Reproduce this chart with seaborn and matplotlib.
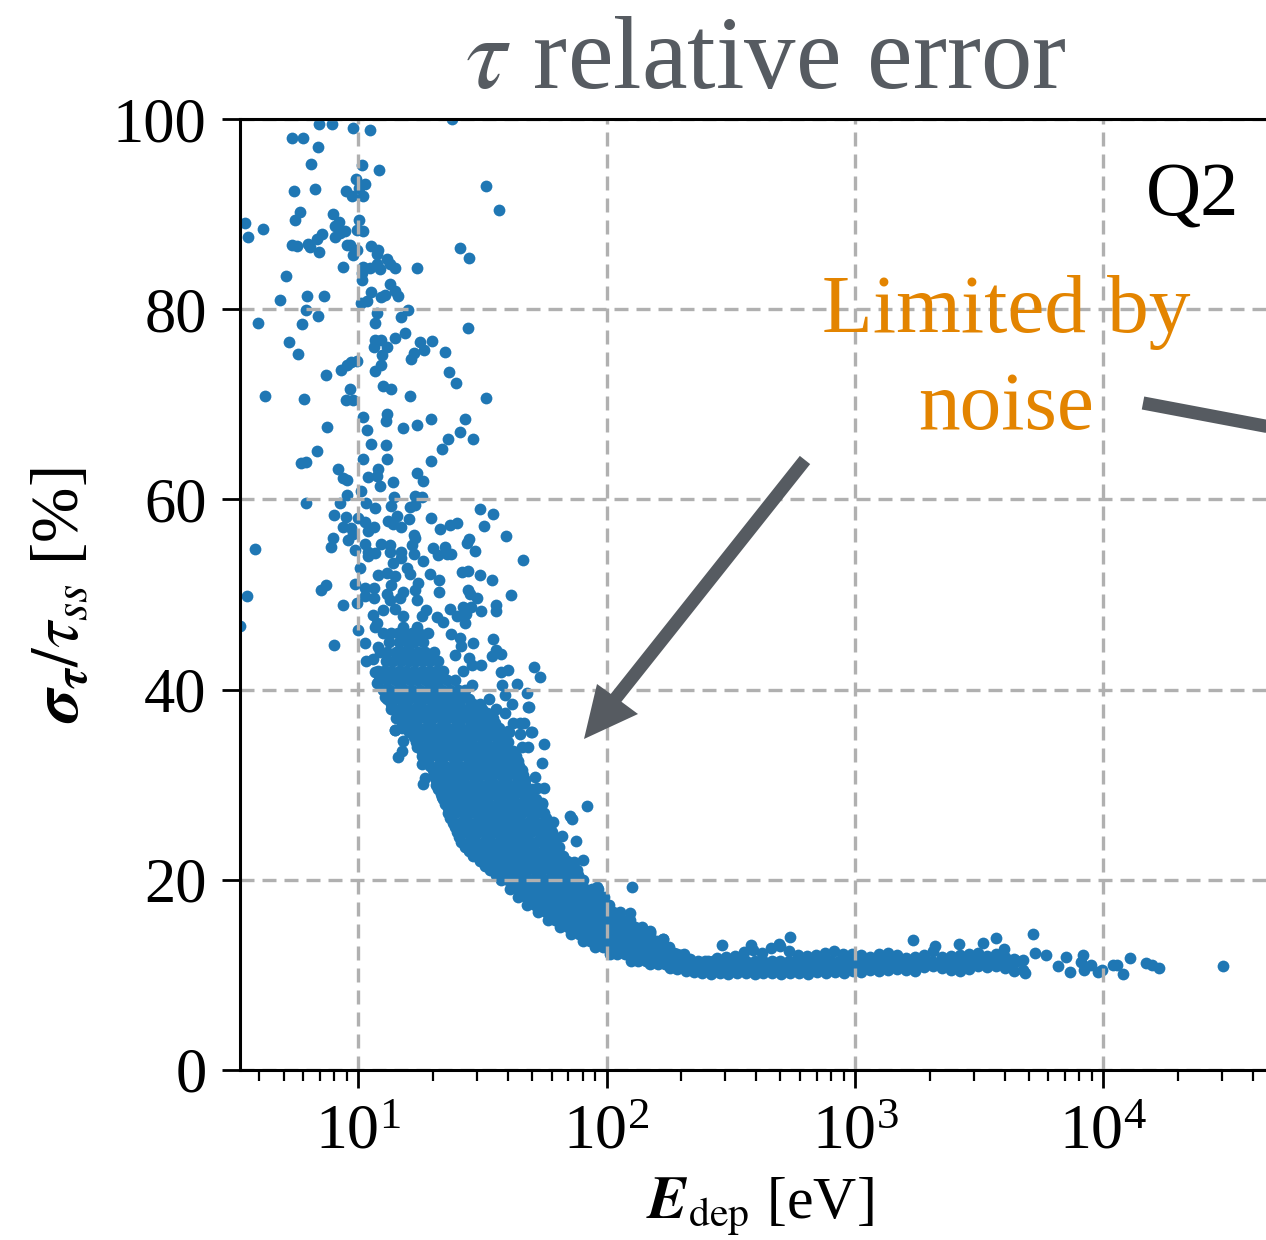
import matplotlib
matplotlib.use("Agg")
import matplotlib.pyplot as plt
from matplotlib.ticker import LogLocator, NullFormatter
import pandas as pd
import seaborn as sns

# isolated points
scatter_E = [6.97, 7.86, 9.55, 11.14, 23.9, 5.39, 5.99, 6.86, 6.45, 10.38, 12.07, 9.79, 10.64, 10.09, 8.92, 9.46, 10.47, 6.67, 5.53, 32.7,
             36.9, 5.84, 5.56, 3.5, 4.15, 3.61, 7.93, 8.39, 8.06, 10.06, 9.85, 10.47, 8.84, 8.44, 8.06, 7.12, 6.84, 6.25, 6.39, 6.95,
             5.39, 5.65, 8.97, 9.26, 9.85, 9.55, 11.3, 11.96, 11.85, 13.1, 13.4, 14.0, 11.85, 12.2, 11.14, 10.47, 10.31, 10.38, 8.7, 17.3,
             25.6, 28.0, 5.1, 13.4, 11.2, 14.0, 14.4, 12.8, 12.3, 6.23, 7.3, 4.84, 10.8, 10.22, 6.16, 15.8, 11.85, 14.8, 6.9, 3.93,
             5.91, 11.67, 27.7, 15.4, 14.0, 11.67, 12.3, 5.28, 17.7, 19.8, 13.1, 11.56, 18.4, 22.4, 16.8, 16.3, 12.5, 5.7, 9.85, 9.31,
             8.97, 8.49, 12.3, 11.67, 7.44, 23.2, 24.8, 12.6, 13.5, 9.26, 4.21, 6.04, 8.89, 9.55, 16.2, 32.8]
scatter_err = [99.5, 99.5, 99.1, 98.85, 100.0, 98.0, 98.0, 97.1, 95.3, 95.2, 94.6, 93.7, 93.2, 92.7, 92.4, 91.9, 91.9, 92.6, 92.4, 93.0,
               90.4, 90.2, 89.4, 89.1, 88.4, 87.6, 90.0, 89.2, 88.7, 89.4, 88.3, 88.2, 88.2, 88.0, 87.6, 87.9, 87.4, 86.9, 86.5, 86.0,
               86.8, 86.6, 86.8, 86.8, 86.2, 85.7, 86.6, 86.2, 85.8, 85.3, 84.8, 84.3, 84.8, 84.2, 84.3, 84.4, 83.8, 83.1, 84.4, 84.3,
               86.4, 85.4, 83.5, 82.6, 81.8, 81.9, 81.4, 81.5, 81.3, 81.4, 81.4, 81.0, 80.9, 80.7, 79.9, 79.9, 79.6, 79.2, 79.3, 78.5,
               78.4, 78.5, 78.0, 77.5, 77.0, 76.8, 76.8, 76.6, 76.6, 76.7, 76.0, 76.0, 75.7, 75.5, 75.4, 74.8, 75.2, 75.3, 74.6, 74.5,
               74.1, 73.6, 74.1, 73.5, 73.1, 73.4, 72.2, 71.9, 71.6, 71.6, 70.9, 70.6, 70.5, 70.5, 70.9, 70.7]

mid_E = [10.47, 13.1, 12.9, 7.5, 10.8, 15.1, 17.3, 19.7, 26.8, 25.7, 22.9, 28.9, 21.8, 11.2, 12.9, 6.84, 10.47, 13.0, 19.6, 5.86,
         6.16, 8.31, 12.0, 17.3, 10.9, 11.85, 8.7, 8.97, 13.8, 18.3, 10.29, 12.2, 8.97, 13.9, 16.9, 18.0, 6.16, 8.44, 10.7, 13.5,
         11.7, 16.1, 16.9, 30.9, 34.9, 8.0, 8.92, 10.0, 14.3, 16.0, 19.6, 10.64, 13.2, 13.8, 14.9, 23.4, 24.9, 8.7, 9.31, 11.56,
         10.97, 21.4, 32.1, 9.49, 16.7, 16.9, 39.5, 7.88, 9.11, 28.0, 27.5, 7.74, 10.64, 12.3, 13.4, 16.4, 20.0, 22.3, 29.5, 9.7,
         3.84, 10.97, 11.67, 13.4, 14.9, 16.7, 21.0, 22.7, 23.7, 10.97, 14.9, 18.3, 46.0, 13.8, 15.7, 10.16, 19.4, 26.1, 27.7, 30.9,
         12.0, 13.0, 14.0, 16.1, 21.2, 34.4, 9.7, 7.41, 7.07, 10.64, 11.56, 13.6, 17.4, 27.7, 21.1, 3.58, 10.64, 11.56, 13.0, 15.2,
         16.9, 28.2, 41.1, 30.2, 8.7, 9.91, 13.4, 14.7, 17.2, 36.0, 35.8, 23.4, 26.5, 28.4, 31.1, 18.8, 12.6, 11.5, 14.0, 15.2,
         18.0, 20.7, 24.9, 27.2, 3.34, 11.85, 11.67, 22.0, 26.9, 10.0, 15.2, 17.2, 23.7, 25.7, 34.9, 7.98, 10.6, 29.0, 25.8, 12.0,
         36.0, 37.7, 34.4, 24.6, 28.0, 10.7, 11.5, 31.3, 28.6, 26.5, 37.7, 40.1, 51.0, 54.0, 11.67, 37.9, 43.7, 28.6, 47.6, 38.9,
         33.6, 41.4, 48.3, 36.0, 12.8, 11.85, 38.9, 44.7, 42.0, 49.8, 40.1, 44.7, 14.0, 15.2]
mid_err = [68.7, 69.0, 68.2, 67.6, 67.3, 67.5, 67.8, 68.5, 68.5, 67.1, 66.35, 66.35, 65.3, 65.8, 65.7, 65.1, 64.2, 64.3, 64.0, 63.8,
           63.9, 63.2, 63.2, 62.8, 62.4, 62.5, 62.2, 62.0, 61.8, 61.9, 60.9, 61.4, 60.5, 60.3, 60.4, 60.2, 59.65, 59.6, 59.6, 59.3,
           59.1, 59.2, 59.4, 59.0, 58.5, 58.4, 58.1, 58.0, 58.25, 57.9, 58.0, 57.6, 57.7, 57.4, 57.1, 57.3, 57.5, 57.1, 56.95, 57.05,
           56.7, 56.9, 57.2, 56.4, 56.3, 55.9, 56.1, 55.9, 55.7, 55.8, 55.4, 55.0, 55.3, 55.3, 55.2, 55.2, 54.9, 55.0, 54.6, 54.7,
           54.75, 54.5, 54.4, 54.5, 54.5, 54.3, 54.2, 54.3, 54.25, 54.0, 53.8, 53.5, 53.6, 53.3, 52.75, 52.75, 52.2, 52.4, 52.5, 52.1,
           52.05, 52.3, 51.9, 52.2, 51.5, 51.5, 51.1, 51.0, 50.5, 50.7, 50.65, 51.0, 51.2, 50.5, 50.3, 49.85, 49.8, 49.6, 50.1, 50.3,
           50.5, 50.1, 50.0, 49.6, 48.9, 49.1, 49.4, 49.6, 49.4, 48.9, 48.25, 48.5, 48.65, 48.7, 48.3, 48.4, 48.4, 47.85, 48.5, 47.7,
           47.7, 47.6, 47.7, 48.0, 46.7, 47.0, 46.6, 47.1, 47.0, 46.3, 46.6, 46.6, 45.85, 45.4, 45.3, 44.65, 44.85, 44.85, 44.6, 44.45,
           44.2, 43.7, 43.5, 43.6, 43.3, 43.05, 43.2, 42.6, 42.6, 42.0, 41.8, 42.05, 42.35, 41.3, 41.9, 40.5, 40.6, 40.5, 39.6, 39.4,
           39.0, 38.5, 38.2, 38.0, 39.25, 40.7, 37.5, 36.5, 36.5, 35.5, 35.6, 35.3, 35.7, 36.5]

# points around the edge of the steep part and above the flat part
edge_E = [48.5, 14.1, 15.2, 15.0, 14.4, 18.0, 18.6, 18.3, 21.7, 29.6, 55.7, 50.2, 46.3, 40.3, 45.6, 48.4, 54.8, 51.5, 55.7, 52.4,
          49.5, 54.7, 83.2, 71.3, 72.4, 60.7, 66.4, 75.0, 80.0, 73.6, 127, 124, 150, 169, 91.3, 122.5, 128,
          149, 168, 292, 549, 495, 382, 1705, 2090, 2620, 3270, 3700, 3970, 5200, 5300, 5900, 7050, 8270, 8100, 6560,
          7330, 8950, 8390, 9530, 10900, 9900, 12050, 12800, 14900, 15700, 16700, 30400, 11300, 4820]
edge_err = [38.2, 35.7, 34.6, 33.5, 32.9, 32.2, 30.7, 30.1, 28.7, 22.6, 34.3, 35.5, 36.45, 35.5, 34.0, 34.0, 32.3, 30.8, 29.7, 29.7,
            28.5, 28.1, 27.8, 26.7, 26.35, 26.1, 24.6, 24.1, 22.1, 21.9, 19.2, 16.5, 14.6, 13.8, 19.2, 15.8, 14.7,
            14.55, 13.8, 13.15, 14.0, 13.3, 13.15, 13.7, 13.05, 13.3, 13.4, 13.85, 12.7, 14.3, 12.35, 12.1, 11.9, 12.1, 11.4, 10.9,
            10.35, 11.05, 10.5, 10.35, 11.05, 10.5, 10.1, 11.75, 11.2, 11.0, 10.7, 10.9, 11.0, 10.2]

# flat part of the curve, upper and lower outline
flat_top_E = [160, 172, 186, 200, 217, 236, 256, 279, 303, 329, 358, 389, 423, 459, 499, 543, 590, 641, 697, 757, 823,
              895, 973, 1057, 1149, 1249, 1358, 1476, 1604, 1744, 1895, 2060, 2239, 2434, 2645, 2875, 3125, 3397, 3692, 4013, 4362, 4742]
flat_top_err = [12.9, 12.6, 12.3, 12.1, 11.7, 11.4, 11.5, 11.8, 11.9, 12.0, 12.4, 12.6, 12.3, 12.8, 13.0, 12.5, 12.1, 12.0, 12.1, 12.3, 12.5,
                12.2, 12.2, 12.1, 11.9, 12.2, 12.3, 12.1, 11.8, 11.9, 12.1, 12.5, 11.9, 12.0, 12.1, 12.2, 12.3, 12.0, 12.2, 11.9, 11.7, 11.6]
flat_low_E = [178, 192, 208, 224, 243, 263, 285, 309, 335, 363, 394, 428, 465, 505, 548, 595, 646, 702, 762, 828, 899,
              977, 1061, 1153, 1253, 1362, 1480, 1608, 1748, 1900, 2064, 2244, 2438, 2650, 2880, 3130, 3402, 3697, 4018, 4367, 4746]
flat_low_err = [10.9, 10.6, 10.4, 10.3, 10.15, 10.1, 10.2, 10.1, 10.2, 10.2, 10.1, 10.2, 10.2, 10.1, 10.2, 10.2, 10.1, 10.3, 10.2, 10.3, 10.2,
                10.4, 10.3, 10.5, 10.4, 10.5, 10.6, 10.5, 10.4, 10.8, 10.9, 10.7, 10.5, 10.4, 10.6, 10.9, 10.8, 10.9, 10.7, 10.4, 10.5]

# solid part of the cloud: where the picture is one blue mass, estimated level by level
band_levels = [46, 45, 44, 43, 42, 41, 40, 39, 38, 37, 36, 35, 34, 33, 32, 31, 30, 29, 28, 27, 26, 25, 24, 23, 22, 21, 20,
               19, 18.2, 17.4, 16.6, 15.8, 15, 14.3, 13.6, 12.9, 12.2, 11.5, 11.1, 10.7,
               38.5, 37.5, 36.5, 35.5, 34.5, 33.5, 32.5, 31.5, 30.5, 29.5, 28.5, 27.5, 26.5, 25.5, 24.5, 23.5, 22.5, 21.5, 20.5]
band_energies = [
    [12.6, 13.6, 14.4, 15.2, 16.4, 17.6, 19],
    [13.3, 14.6, 15.7, 16.8, 18.2],
    [12.2, 13.1, 14.2, 15.1, 16.2, 17.4, 18.6, 20.2],
    [12.9, 13.8, 14.8, 16, 17, 18.3, 19.5, 21],
    [12, 12.7, 13.6, 14.6, 15.6, 16.8, 18, 19.2, 20.6, 22],
    [12.1, 13, 14, 15, 16.1, 17.2, 18.5, 19.8, 21.2, 22.8, 24.6],
    [12.6, 13.4, 14.4, 15.4, 16.5, 17.7, 19, 20.3, 21.8, 23.4, 25.2, 27],
    [13, 13.9, 14.9, 16, 17.2, 18.4, 19.7, 21.1, 22.6, 24.2, 26, 28],
    [13.6, 14.6, 15.7, 16.8, 18, 19.3, 20.7, 22.2, 23.8, 25.5, 27.3, 29.3, 31.4],
    [14.2, 15.2, 16.3, 17.5, 18.7, 20, 21.5, 23, 24.6, 26.4, 28.3, 30.3, 32.5, 34.8],
    [15, 16.1, 17.2, 18.5, 19.8, 21.2, 22.7, 24.3, 26, 27.9, 29.9, 32, 34.3, 36.7],
    [16.7, 17.9, 19.2, 20.6, 22, 23.6, 25.3, 27.1, 29, 31.1, 33.3, 35.7, 38.2],
    [17.3, 18.5, 19.8, 21.2, 22.7, 24.4, 26.1, 28, 30, 32.1, 34.4, 36.9, 39.5],
    [18, 19.3, 20.7, 22.1, 23.7, 25.4, 27.2, 29.1, 31.2, 33.4, 35.8, 38.3, 41, 43],
    [19.5, 20.9, 22.4, 24, 25.7, 27.5, 29.5, 31.6, 33.8, 36.2, 38.8, 41.6, 44.5],
    [20.2, 21.6, 23.2, 24.8, 26.6, 28.5, 30.5, 32.7, 35, 37.5, 40.2, 43, 46],
    [20.6, 22, 23.6, 25.3, 27.1, 29, 31.1, 33.3, 35.7, 38.2, 41, 43.9, 47],
    [21.5, 23, 24.7, 26.4, 28.3, 30.3, 32.5, 34.8, 37.3, 40, 42.8, 45.9, 49.2],
    [22.3, 23.9, 25.6, 27.4, 29.4, 31.5, 33.7, 36.1, 38.7, 41.5, 44.4, 47.6, 51, 55],
    [23, 24.6, 26.4, 28.3, 30.3, 32.4, 34.8, 37.2, 39.9, 42.8, 45.8, 49.1, 52.6, 56],
    [24, 25.7, 27.6, 29.5, 31.7, 33.9, 36.3, 38.9, 41.7, 44.7, 47.9, 51.3, 55, 58],
    [25, 26.8, 28.7, 30.7, 32.9, 35.3, 37.8, 40.5, 43.4, 46.5, 49.8, 53.4, 57, 60],
    [26, 27.9, 29.8, 32, 34.2, 36.7, 39.3, 42.1, 45.1, 48.4, 51.8, 55.5, 59.5, 62],
    [27.8, 29.8, 31.9, 34.2, 36.6, 39.2, 42, 45, 48.2, 51.7, 55.4, 59.3, 63.5],
    [31, 33.2, 35.6, 38.1, 40.8, 43.8, 46.9, 50.2, 53.8, 57.7, 61.8, 66.2, 69],
    [34, 36.4, 39, 41.8, 44.8, 48, 51.4, 55.1, 59, 63.2, 67.7, 72.6, 76],
    [37.5, 40.2, 43, 46.1, 49.4, 52.9, 56.7, 60.7, 65, 69.7, 74.7, 80],
    [41, 43.9, 47, 50.4, 54, 57.8, 62, 66.4, 71.1, 76.2, 81.6, 87.5, 92],
    [44, 47.2, 50.5, 54.1, 58, 62.1, 66.6, 71.3, 76.4, 81.9, 87.7, 94, 98],
    [48, 51.4, 55.1, 59, 63.2, 67.7, 72.6, 77.7, 83.3, 89.3, 95.6, 102],
    [53, 56.8, 60.8, 65.2, 69.8, 74.8, 80.2, 85.9, 92, 98.6, 105.6, 113],
    [58, 62.1, 66.6, 71.3, 76.4, 81.9, 87.7, 94, 100.7, 107.9, 115.6, 124],
    [65, 69.6, 74.6, 80, 85.7, 91.8, 98.4, 105.4, 112.9, 121, 130, 139],
    [72, 77.2, 82.7, 88.6, 94.9, 101.7, 109, 116.7, 125, 134, 143.6, 150],
    [80, 85.7, 91.8, 98.4, 105.4, 112.9, 121, 129.6, 138.9, 148.8, 159],
    [90, 96.4, 103.3, 110.7, 118.6, 127, 136, 145.8, 156.2, 167.4, 179],
    [103, 110.3, 118.2, 126.7, 135.7, 145.4, 155.8, 166.9, 178.8, 191.6, 205],
    [125, 134, 143.5, 153.7, 164.7, 176.5, 189, 202.6, 217, 232.5, 249, 268, 290, 312, 338, 365, 395, 428, 462, 500, 540, 585, 632, 684,
     740, 800, 865, 936, 1012, 1095, 1184, 1281, 1385, 1498, 1620, 1752, 1895, 2050, 2217, 2398, 2594, 2805, 3034, 3281, 3549, 3838, 4151, 4490],
    [150, 160.7, 172, 184.5, 197.7, 211.8, 227, 243, 260.5, 279, 299, 322, 348, 376, 407, 440, 476, 515, 557, 602, 651, 704, 762, 824,
     891, 964, 1042, 1127, 1219, 1318, 1426, 1542, 1668, 1804, 1951, 2110, 2282, 2468, 2669, 2887, 3122, 3377, 3652, 3950, 4272],
    [180, 193, 207, 221, 237, 254, 272, 292, 313, 338, 366, 396, 428, 463, 501, 542, 586, 634, 686, 742, 803, 868, 939, 1016, 1099, 1189],
    [13.5, 15.5, 17.5, 20, 22.5, 25.5, 29, 31],
    [14.5, 16.5, 18.5, 21, 24, 27, 30.5, 33],
    [15, 17, 19.5, 22, 25, 28.5, 32, 35.5],
    [16, 18.5, 21, 24, 27, 30.5, 35, 37.5],
    [17, 19.5, 22, 25, 28.5, 32.5, 37, 40],
    [18, 20.5, 23.5, 26.5, 30, 34, 38.5, 42],
    [19, 21.5, 24.5, 28, 31.5, 36, 41, 44],
    [20, 22.5, 25.5, 29, 33, 37.5, 42.5, 45.5],
    [20.5, 23.5, 26.5, 30, 34, 38.5, 44, 47],
    [21, 24, 27, 31, 35, 40, 45.5, 50],
    [22, 25, 28.5, 32.5, 37, 42, 47.5, 52],
    [23, 26, 29.5, 33.5, 38, 43, 49, 54],
    [23.5, 27, 30.5, 34.5, 39, 44.5, 50.5, 57],
    [24.5, 28, 32, 36, 41, 46.5, 52.5, 59],
    [25.5, 29, 33, 37.5, 42.5, 48, 54.5, 60],
    [27, 30.5, 34.5, 39, 44.5, 50.5, 57, 64],
    [29, 33, 37.5, 42.5, 48, 54.5, 62, 67],
    [32.5, 37, 42, 48, 54, 61, 69],
    [36, 41, 47, 53, 60, 68, 77],
]

TITLE_GRAY = "#565b61"
NOISE_ORANGE = "#e38400"
W, H = 1266, 1240

band_E = [e for row in band_energies for e in row]
band_err = [lev for lev, row in zip(band_levels, band_energies) for _ in row]

df = pd.DataFrame({
    "E": scatter_E + mid_E + edge_E + flat_top_E + flat_low_E + band_E,
    "err": scatter_err + mid_err + edge_err + flat_top_err + flat_low_err + band_err,
})

sns.set_theme(style="white")
plt.rcParams["font.family"] = ["Liberation Serif", "DejaVu Serif"]
plt.rcParams["mathtext.fontset"] = "stix"


def fig_xy(x, y):
    # pixel position in the picture -> figure fraction
    return x / W, 1 - y / H


fig = plt.figure(figsize=(W / 100, H / 100), dpi=100)
ax = fig.add_axes([240 / W, (H - 1070) / H, 1060 / W, 951 / H])

sns.scatterplot(data=df, x="E", y="err", ax=ax, color="#1f77b4", s=72, linewidth=0, zorder=2)

ax.set_xscale("log")
ax.set_xlim(3.34, 61900)
ax.set_ylim(0, 100)
ax.set_yticks([0, 20, 40, 60, 80, 100])
ax.xaxis.set_major_locator(LogLocator(base=10, numticks=12))
ax.xaxis.set_minor_locator(LogLocator(base=10, subs=range(2, 10), numticks=12))
ax.xaxis.set_minor_formatter(NullFormatter())
ax.grid(True, which="major", color="#b0b0b0", lw=2.4, linestyle=(0, (4.2, 2.4)), zorder=3)
ax.set_axisbelow(False)
ax.tick_params(axis="y", which="major", length=13, width=2.0, labelsize=45, pad=11, color="black", labelcolor="black", left=True)
ax.tick_params(axis="x", which="major", length=13, width=2.0, labelsize=46, pad=12, color="black", labelcolor="black", bottom=True)
ax.tick_params(axis="x", which="minor", length=8, width=1.6, color="black", bottom=True)
ax.set_xlabel("")
ax.set_ylabel("")
for name, spine in ax.spines.items():
    spine.set_color("black")
    spine.set_linewidth(2.2)
    spine.set_zorder(5)

fig.text(*fig_xy(766, 63), r"$\tau$ relative error", color=TITLE_GRAY, fontsize=74, ha="center", va="center")
fig.text(*fig_xy(760, 1207), r"$\mathbfit{E}_{\mathrm{dep}}$ [eV]", color="black", fontsize=43, ha="center", va="center")
fig.text(*fig_xy(62, 595), r"$\mathbfit{\sigma}_{\mathbfit{\tau}}/\tau_{ss}$ [%]", color="black", fontsize=48, rotation=90, ha="center", va="center")
fig.text(*fig_xy(1193, 197), "Q2", color="black", fontsize=55, ha="center", va="center")
fig.text(*fig_xy(1006, 312), "Limited by", color=NOISE_ORANGE, fontsize=60, ha="center", va="center", zorder=6)
fig.text(*fig_xy(1006, 409), "noise", color=NOISE_ORANGE, fontsize=60, ha="center", va="center", zorder=6)

# arrows are drawn in picture pixels
shaft = plt.Line2D([fig_xy(805, 460)[0], fig_xy(612, 703)[0]], [fig_xy(805, 460)[1], fig_xy(612, 703)[1]],
                   transform=fig.transFigure, color=TITLE_GRAY, lw=9.5, solid_capstyle="butt", zorder=7)
fig.add_artist(shaft)
head = plt.Polygon([fig_xy(584, 739), fig_xy(638, 714), fig_xy(615, 697), fig_xy(597, 684)],
                   closed=True, transform=fig.transFigure, facecolor=TITLE_GRAY, edgecolor="none", zorder=7)
fig.add_artist(head)
pointer = plt.Line2D([fig_xy(1143, 403)[0], fig_xy(1270, 427)[0]], [fig_xy(1143, 403)[1], fig_xy(1270, 427)[1]],
                     transform=fig.transFigure, color=TITLE_GRAY, lw=9.5, solid_capstyle="butt", zorder=7)
fig.add_artist(pointer)

fig.savefig("out.png", dpi=100)
